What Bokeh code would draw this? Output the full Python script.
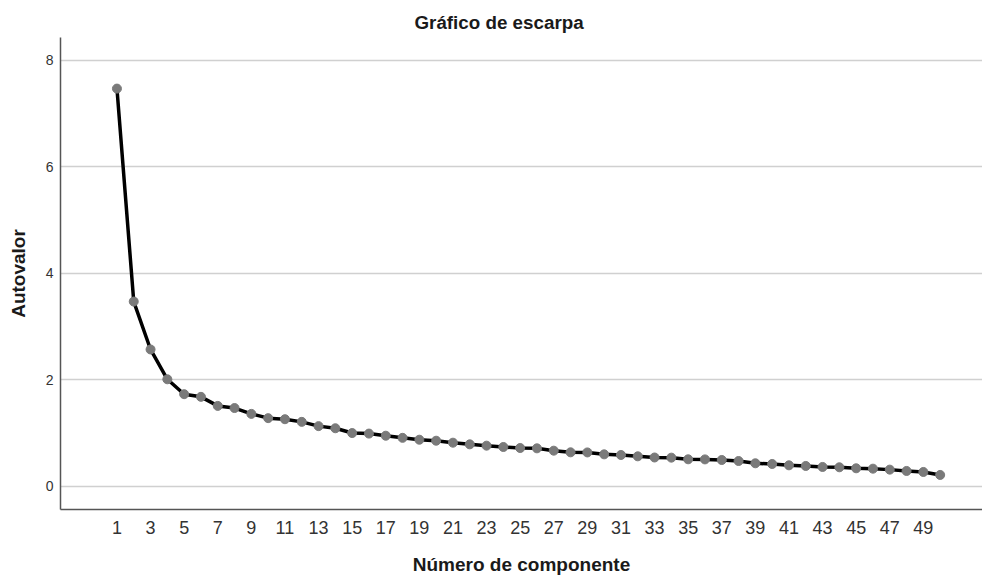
from bokeh.plotting import figure
from bokeh.models import Range1d, FixedTicker
from bokeh.embed import file_html
from bokeh.resources import INLINE

components = list(range(1, 51))
eigenvalues = [7.47, 3.47, 2.57, 2.01, 1.73, 1.68, 1.51, 1.47, 1.36, 1.28,
               1.26, 1.21, 1.13, 1.09, 1.00, 0.99, 0.95, 0.91, 0.875, 0.856,
               0.819, 0.788, 0.763, 0.738, 0.719, 0.713, 0.669, 0.638, 0.636, 0.600,
               0.588, 0.563, 0.541, 0.538, 0.507, 0.505, 0.494, 0.475, 0.432, 0.419,
               0.394, 0.382, 0.363, 0.357, 0.338, 0.331, 0.313, 0.288, 0.269, 0.213]
x_ticks = list(range(1, 50, 2))
y_ticks = [0, 2, 4, 6, 8]

FONT = "Liberation Sans"

p = figure(frame_width=922, frame_height=472, output_backend="svg", toolbar_location=None,
           x_range=Range1d(-2.36, 52.52), y_range=Range1d(-0.436, 8.43),
           min_border_left=60, min_border_right=0, min_border_top=37, min_border_bottom=66,
           title="Gráfico de escarpa")

p.title.text_font = FONT
p.title.text_font_size = "18.8px"
p.title.text_font_style = "bold"
p.title.text_color = "#1a1a1a"
p.title.align = "left"
p.title.offset = 354
p.title.standoff = 9

p.outline_line_color = None
p.background_fill_color = "white"
p.border_fill_color = "white"

p.xgrid.grid_line_color = None
p.ygrid.grid_line_color = "#d0d0d0"
p.ygrid.grid_line_width = 1.5
p.ygrid.ticker = FixedTicker(ticks=y_ticks)

p.xaxis.ticker = FixedTicker(ticks=x_ticks)
p.yaxis.ticker = FixedTicker(ticks=y_ticks)

for ax in (p.xaxis, p.yaxis):
    ax.axis_line_color = "#555555"
    ax.axis_line_width = 1.5
    ax.major_tick_line_color = None
    ax.minor_tick_line_color = None
    ax.major_tick_out = 0
    ax.major_tick_in = 0
    ax.major_label_text_font = FONT
    ax.major_label_text_color = "#333333"
    ax.axis_label_text_font = FONT
    ax.axis_label_text_font_style = "bold"
    ax.axis_label_text_font_size = "19px"
    ax.axis_label_text_color = "#1a1a1a"

p.xaxis.axis_label = "Número de componente"
p.xaxis.major_label_text_font_size = "18px"
p.xaxis.major_label_standoff = 11
p.xaxis.axis_label_standoff = 17

p.yaxis.axis_label = "Autovalor"
p.yaxis.major_label_text_font_size = "14px"
p.yaxis.major_label_standoff = 7
p.yaxis.axis_label_standoff = 14

p.line(components, eigenvalues, line_color="black", line_width=3.5)
p.scatter(components, eigenvalues, size=9, fill_color="#7a7a7a", line_color="#7a7a7a")

open("out.html", "w").write(file_html(p, INLINE))
